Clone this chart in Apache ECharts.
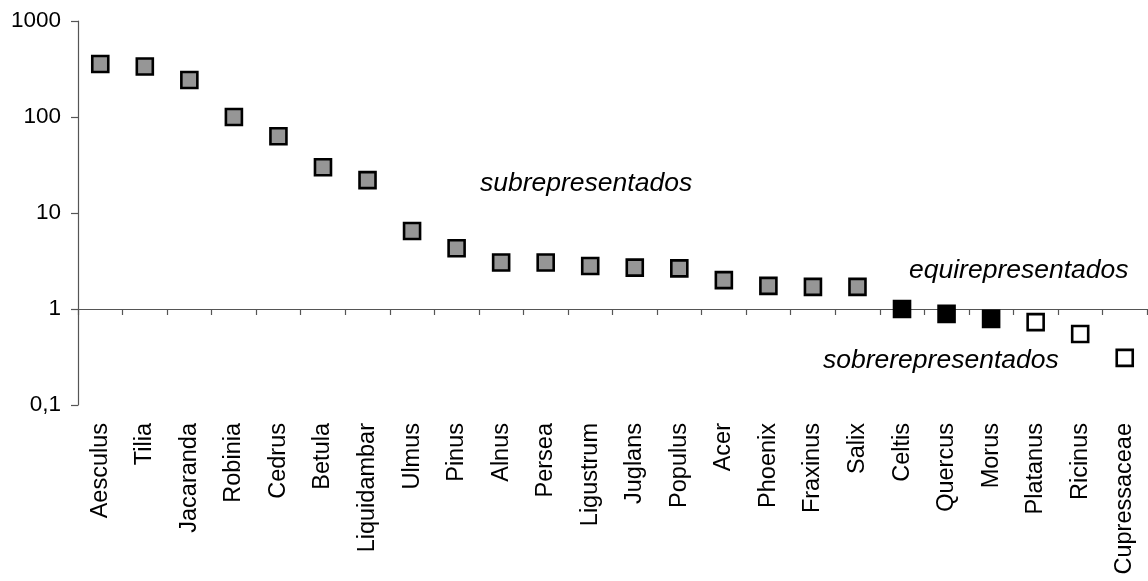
<!DOCTYPE html>
<html>
<head>
<meta charset="utf-8">
<style>
  html, body { margin: 0; padding: 0; background: #fff; }
  #chart { width: 1148px; height: 581px; }
</style>
<script src="https://cdn.jsdelivr.net/npm/echarts@6/dist/echarts.min.js"></script>
</head>
<body>
<div id="chart"></div>
<script>
// Taxa along the horizontal axis
const taxa = ['Aesculus', 'Tilia', 'Jacaranda', 'Robinia', 'Cedrus', 'Betula', 'Liquidambar',
  'Ulmus', 'Pinus', 'Alnus', 'Persea', 'Ligustrum', 'Juglans', 'Populus', 'Acer', 'Phoenix',
  'Fraxinus', 'Salix', 'Celtis', 'Quercus', 'Morus', 'Platanus', 'Ricinus', 'Cupressaceae'];

// Representation ratio for each taxon (log scale)
const ratios = [357, 336, 243, 100, 63, 30, 22, 6.5, 4.3, 3.05, 3.05, 2.8, 2.7, 2.65, 2.0, 1.74,
  1.7, 1.7, 1.0, 0.89, 0.79, 0.73, 0.55, 0.31];

// Group of each taxon: sub = under-represented, equi = equally, sobre = over-represented
const groups = ['sub', 'sub', 'sub', 'sub', 'sub', 'sub', 'sub', 'sub', 'sub', 'sub', 'sub', 'sub',
  'sub', 'sub', 'sub', 'sub', 'sub', 'sub', 'equi', 'equi', 'equi', 'sobre', 'sobre', 'sobre'];

// Fill colour per group
const groupFill = { sub: '#969696', equi: '#000000', sobre: '#ffffff' };

// Y-axis tick values shown
const yTicks = [0.1, 1, 10, 100, 1000];

const FONT = '"Liberation Sans", Arial, sans-serif';

const chart = echarts.init(document.getElementById('chart'), null, { renderer: 'canvas' });

const points = ratios.map((v, i) => ({
  value: v,
  itemStyle: { color: groupFill[groups[i]], borderColor: '#000', borderWidth: 2.6, opacity: 1 }
}));

chart.setOption({
  animation: false,
  backgroundColor: '#fff',
  grid: { left: 78, right: 1, top: 21, bottom: 176, containLabel: false },
  xAxis: [
    {
      // Category labels at the foot of the plot
      type: 'category',
      data: taxa,
      position: 'bottom',
      axisLine: { show: false },
      axisTick: { show: false },
      axisLabel: {
        rotate: 90,
        margin: 18,
        color: '#000',
        fontFamily: FONT,
        fontSize: 23.5,
        interval: 0
      }
    },
    {
      // Horizontal line through ratio = 1, with category ticks
      type: 'category',
      data: taxa,
      position: 'bottom',
      offset: -96,
      boundaryGap: true,
      axisLine: { show: true, lineStyle: { color: '#555', width: 1.2 } },
      axisTick: { show: true, interval: 0, length: 6, lineStyle: { color: '#555', width: 1.2 } },
      axisLabel: { show: false }
    }
  ],
  yAxis: {
    type: 'log',
    logBase: 10,
    min: yTicks[0],
    max: yTicks[yTicks.length - 1],
    splitLine: { show: false },
    axisLine: { show: true, lineStyle: { color: '#555', width: 1.2 } },
    axisTick: { show: true, length: 7, lineStyle: { color: '#555', width: 1.2 } },
    axisLabel: {
      color: '#000',
      fontFamily: FONT,
      fontSize: 22.5,
      margin: 17,
      formatter: v => String(+v.toPrecision(6)).replace('.', ',')
    }
  },
  series: [
    {
      type: 'scatter',
      xAxisIndex: 0,
      symbol: 'rect',
      symbolSize: 16,
      data: points,
      emphasis: { disabled: true },
      z: 5
    }
  ],
  graphic: [
    {
      type: 'text', left: 480, top: 170,
      style: { text: 'subrepresentados', font: 'italic 26.5px ' + FONT, fill: '#000' }
    },
    {
      type: 'text', left: 909, top: 257,
      style: { text: 'equirepresentados', font: 'italic 26.5px ' + FONT, fill: '#000' }
    },
    {
      type: 'text', left: 823, top: 347,
      style: { text: 'sobrerepresentados', font: 'italic 26.5px ' + FONT, fill: '#000' }
    }
  ]
});
</script>
</body>
</html>
